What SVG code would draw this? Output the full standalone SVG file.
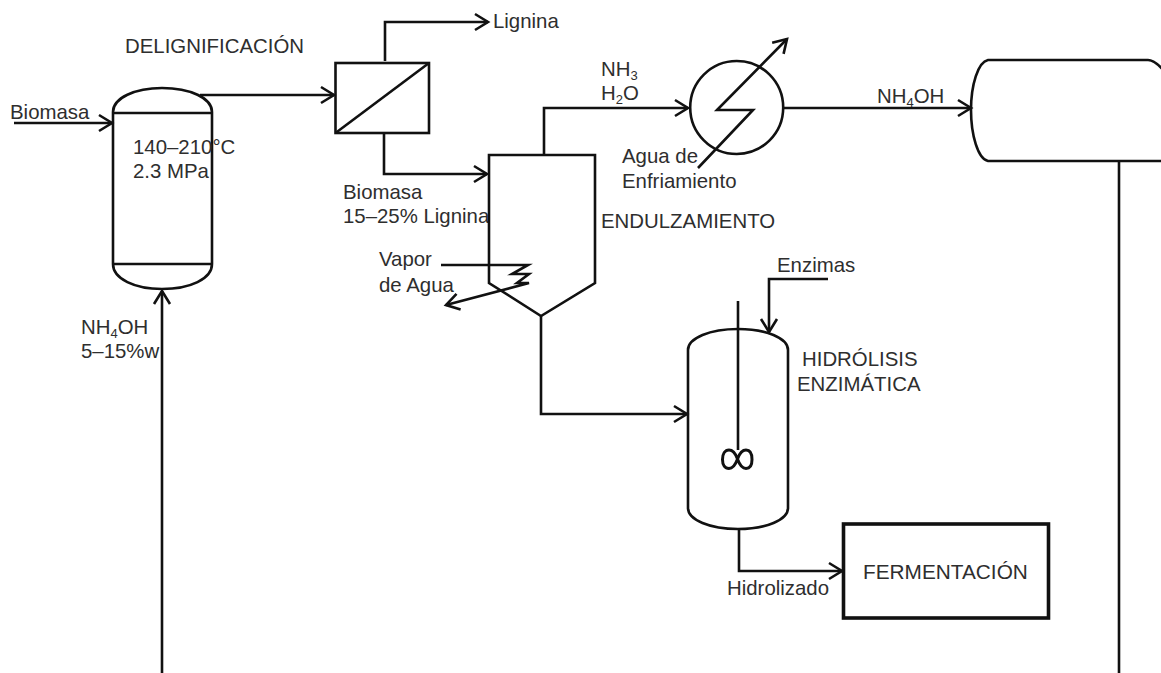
<svg xmlns="http://www.w3.org/2000/svg" width="1161" height="673" viewBox="0 0 1161 673">
<style>
.l{fill:none;stroke:#111;stroke-width:2.6}
.c{fill:none;stroke:#111;stroke-width:2.6;marker-end:url(#a)}
text{font-family:"Liberation Sans",Arial,sans-serif;font-size:20.4px;fill:#2e2e2e}
.s{font-size:13px}
</style>
<defs><marker id="a" markerUnits="userSpaceOnUse" markerWidth="18" markerHeight="20" refX="15" refY="10" orient="auto" overflow="visible"><path d="M2,2 L15,10 L2,18" fill="none" stroke="#111" stroke-width="2.6"/></marker></defs>
<rect width="1161" height="673" fill="#fff"/>
<g id="connectors">
<path class="c" d="M14,123 H112"/>
<path class="c" d="M162,673 V291"/>
<path class="c" d="M200,95 H334"/>
<path class="c" d="M385,61 V22 H488"/>
<path class="c" d="M384,133 V174 H487"/>
<path class="c" d="M544,155 V108 H688"/>
<path class="c" d="M783,108 H971"/>
<path class="l" d="M1119,161 V673"/>
<path class="c" d="M541,316 V414 H687"/>
<path class="c" d="M828,279 H769 V332"/>
<path class="c" d="M739,529 V571 H842"/>
<path class="c" d="M441,265 H528 L512,274 H529 L517,283 H529 L446,305"/>
<path class="c" d="M698,168 L753,110 H717 L787,39"/>
</g>
<g id="reactor">
<path class="l" d="M113,112 V264 M212,112 V264 M113,113 H212 M113,264 H212"/>
<path class="l" d="M113,112 C113,98 135,88 162,88 C190,88 212,98 212,112 M113,264 C113,279 135,289 162,289 C190,289 212,279 212,264"/>
<text x="10" y="119">Biomasa</text>
<text x="133" y="154">140–210°C</text>
<text x="133" y="178">2.3 MPa</text>
<text x="125" y="53">DELIGNIFICACIÓN</text>
<text x="81" y="334">NH<tspan class="s" dy="4">4</tspan><tspan dy="-4">OH</tspan></text>
<text x="81" y="358">5–15%w</text>
</g>
<g id="filter">
<rect class="l" x="335.5" y="63" width="93.5" height="70"/>
<path class="l" d="M335.5,133 L429,63"/>
<text x="493" y="28">Lignina</text>
<text x="343" y="199">Biomasa</text>
<text x="343" y="223">15–25% Lignina</text>
</g>
<g id="sweetening">
<path class="l" d="M489,283 V155 H595 V283 L541,316 Z"/>
<text x="601" y="76">NH<tspan class="s" dy="4">3</tspan></text>
<text x="601" y="100">H<tspan class="s" dy="4">2</tspan><tspan dy="-4">O</tspan></text>
<text x="601" y="228">ENDULZAMIENTO</text>
<text x="379" y="266">Vapor</text>
<text x="379" y="292">de Agua</text>
</g>
<g id="condenser">
<circle class="l" cx="736.7" cy="107.5" r="46.5"/>
<text x="622" y="163">Agua de</text>
<text x="622" y="188">Enfriamiento</text>
</g>
<g id="tank">
<path class="l" d="M1176,161 H988 C978,159 971,135 971,110 C971,85 978,62 988,60 H1148 C1156,60 1170,75 1176,90"/>
<text x="877" y="103">NH<tspan class="s" dy="4">4</tspan><tspan dy="-4">OH</tspan></text>
</g>
<g id="hydrolysis">
<path class="l" d="M688,350 V508 C688,520 710,529 738,529 C766,529 788,520 788,508 V350 C788,338 766,329 738,329 C710,329 688,338 688,350 Z"/>
<path class="l" d="M738,301 V450"/>
<path d="M737.5,459 C735,452 732,450 729,450 C725,450 722.5,454 722.5,459.5 C722.5,465 725,468.5 729,468.5 C732,468.5 735,466 737.5,459 C740,452 743,450 746,450 C750,450 752,454 752,459.5 C752,465 750,468.5 746,468.5 C743,468.5 740,466 737.5,459 Z" fill="none" stroke="#111" stroke-width="3"/>
<text x="777" y="272">Enzimas</text>
<text x="802" y="366">HIDRÓLISIS</text>
<text x="797" y="391">ENZIMÁTICA</text>
<text x="727" y="595">Hidrolizado</text>
</g>
<g id="fermentation">
<rect x="843.5" y="524" width="205" height="94" fill="none" stroke="#111" stroke-width="3.6"/>
<text x="863" y="579" style="font-size:20.8px">FERMENTACIÓN</text>
</g>
</svg>
